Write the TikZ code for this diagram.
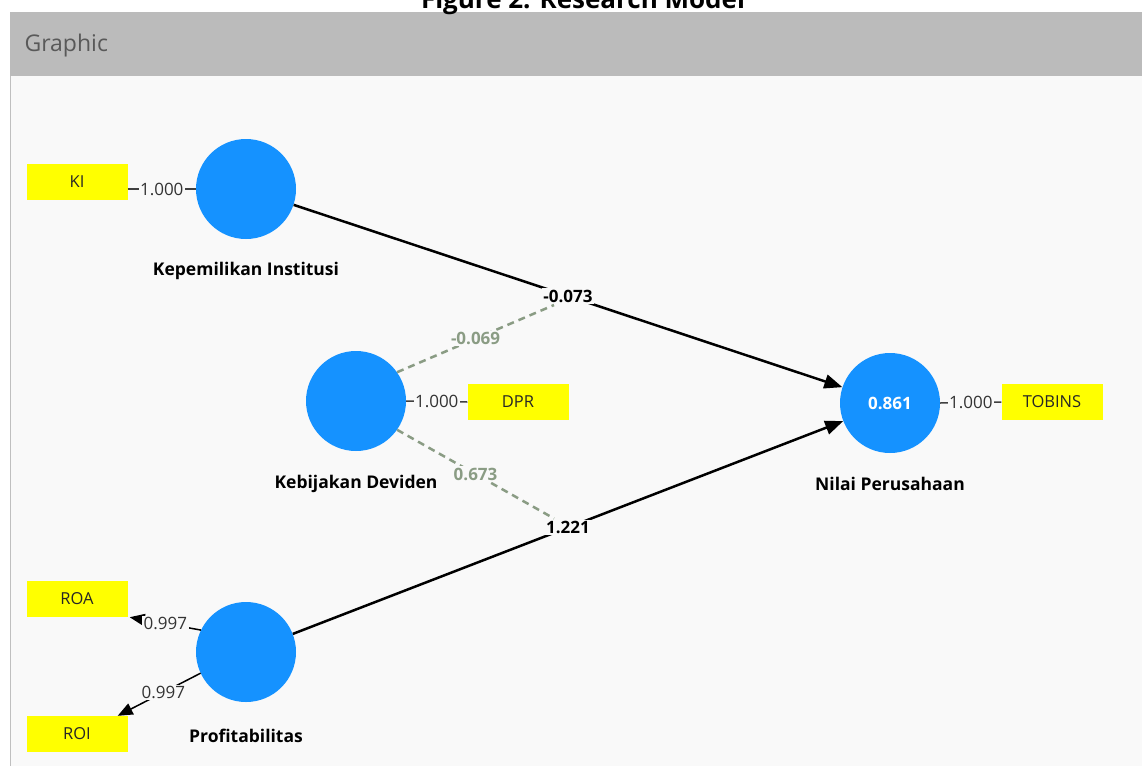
\documentclass[tikz,border=0pt]{standalone}
\usepackage{fontspec}
\setmainfont{Open Sans}
\usetikzlibrary{arrows.meta}

\definecolor{headgray}{HTML}{BBBBBB}
\definecolor{panelbg}{HTML}{F9F9F9}
\definecolor{lvblue}{HTML}{1592FF}
\definecolor{mvyellow}{HTML}{FFFF00}
\definecolor{modgreen}{HTML}{8A9C84}

\begin{document}
\begin{tikzpicture}[x=1pt,y=-1pt,
    latent/.style={circle,fill=lvblue,minimum size=100pt,inner sep=0pt,text=white,font=\fontsize{17}{20}\selectfont\bfseries},
    indicator/.style={rectangle,fill=mvyellow,minimum width=101pt,minimum height=36pt,inner sep=0pt,text=black!85,font=\fontsize{16.5}{20}\selectfont},
    lvname/.style={font=\fontsize{17.5}{20}\selectfont\bfseries},
    loading/.style={fill=panelbg,inner sep=1.5pt,text=black!80,font=\fontsize{17}{20}\selectfont},
    coef/.style={fill=panelbg,inner sep=1.5pt,font=\fontsize{17}{20}\selectfont\bfseries},
    modcoef/.style={fill=panelbg,inner sep=1.5pt,text=modgreen,font=\fontsize{17}{20}\selectfont\bfseries},
    tip/.style={-{Triangle[length=15pt,width=12pt]}},
    bigtip/.style={-{Triangle[length=18pt,width=14pt]}}]
    % Frame
    \useasboundingbox (0,0) rectangle (1142,766);
    \fill[panelbg] (10,76) rectangle (1142,766);
    \fill[headgray] (10,12) rectangle (1142,76);
    \draw[black!25] (10,76) -- (10,766);
    \node[anchor=west,text=black!65,font=\fontsize{23}{26}\selectfont] (graphic) at (21,46) {Graphic};
    \node[anchor=base,font=\fontsize{26}{30}\selectfont\bfseries] (title) at (583,8) {Figure 2. Research Model};

    % Latent variables
    \node[latent] (kepin) at (246,189) {};
    \node[latent] (kebdev) at (356,401) {};
    \node[latent] (profit) at (246,652) {};
    \node[latent] (nilai) at (890,403) {0.861};

    \node[lvname] (kepinname) at (246,271) {Kepemilikan Institusi};
    \node[lvname] (kebdevname) at (356,484) {Kebijakan Deviden};
    \node[lvname] (profitname) at (246,736) {Profitabilitas};
    \node[lvname] (nilainame) at (890,484) {Nilai Perusahaan};

    % Indicators
    \node[indicator] (ki) at (77,182) {KI};
    \node[indicator] (dpr) at (518,402) {DPR};
    \node[indicator] (tobins) at (1052,402) {TOBINS};
    \node[indicator] (roa) at (77,599) {ROA};
    \node[indicator] (roi) at (77,734) {ROI};

    % Loadings
    \draw[line width=1.5pt,black!75] (ki.east |- kepin) -- node[loading] {1.000} (kepin.west);
    \draw[line width=1.5pt,black!75] (kebdev.east) -- node[loading] {1.000} (dpr.west);
    \draw[line width=1.5pt,black!75] (nilai.east) -- node[loading] {1.000} (tobins.west);
    \draw[line width=1.5pt,tip] (profit) ++(-154:50) coordinate (p1) (p1) -- node[loading] {0.997} ([xshift=2pt]roa.south east);
    \draw[line width=1.5pt,tip] (profit) ++(-205:50) coordinate (p2) (p2) -- node[loading,pos=0.45] {0.997} ([xshift=-10pt]roi.north east);

    % Structural paths
    \draw[line width=2.5pt,bigtip] (kepin) -- node[coef] (w1) {-0.073} (nilai);
    \draw[line width=2.5pt,bigtip] (profit) -- node[coef] (w2) {1.221} (nilai);

    % Moderating effects
    \draw[line width=2.5pt,modgreen,dash pattern=on 7pt off 5pt] (kebdev.35) -- node[modcoef,pos=0.5] {-0.069} ([xshift=-14pt]w1.south);
    \draw[line width=2.5pt,modgreen,dash pattern=on 7pt off 5pt] (kebdev.-35) -- node[modcoef,pos=0.5] {0.673} ([xshift=-14pt]w2.north);
\end{tikzpicture}
\end{document}
